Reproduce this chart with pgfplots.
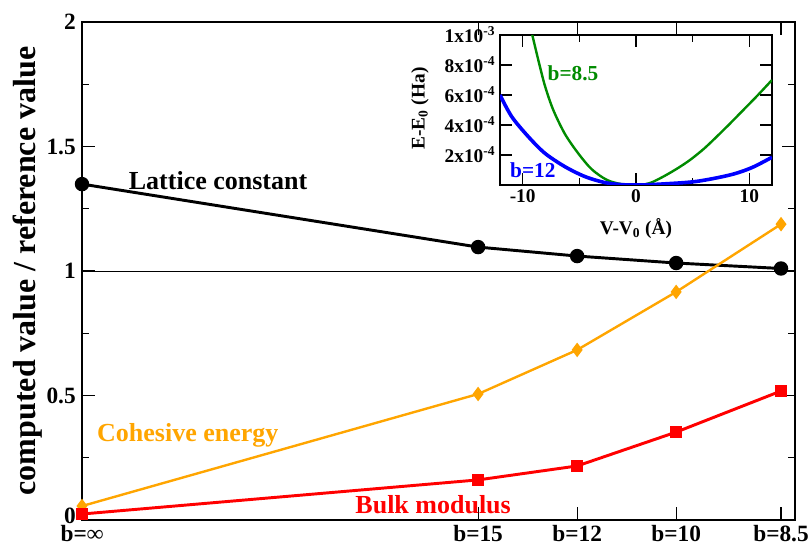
\documentclass[border=0pt]{standalone}
\usepackage{fontspec}
\setmainfont{Liberation Serif}
\usepackage{pgfplots}
\pgfplotsset{compat=1.18}
\definecolor{xorange}{RGB}{255,165,0}
\definecolor{xgreen}{RGB}{0,139,0}
\begin{document}
\begin{tikzpicture}
\begin{axis}[
  scale only axis, width=534.75pt, height=373.5pt,
  xmin=0, xmax=0.12, ymin=0, ymax=2,
  xtick={0,0.0666667,0.0833333,0.1,0.117647},
  xticklabels={b=∞,b=15,b=12,b=10,b=8.5},
  ytick={0,0.5,1,1.5,2},
  yticklabels={\raisebox{7pt}{0},0.5,1,1.5,2},
  minor ytick={0.25,0.75,1.25,1.75},
  tick align=inside,
  major tick length=10pt, minor tick length=5pt,
  every tick/.style={black, line width=0.8pt},
  axis line style={line width=1.4pt},
  tick label style={font=\bfseries\fontsize{17.5}{17.5}\selectfont},
  xticklabel style={inner sep=0pt, yshift=-4pt},
  yticklabel style={inner sep=0pt, xshift=-4.5pt},
  ylabel={computed value / reference value},
  ylabel style={font=\bfseries\fontsize{24}{24}\selectfont, inner sep=0pt, at={(axis description cs:-0.0757,0.5)}, anchor=center},
  clip=false,
]
\addplot[black, line width=0.6pt, forget plot] coordinates {(0,1) (0.12,1)};
\addplot[black, line width=2.2pt, mark=*, mark size=4.3pt] coordinates {
(0,1.349) (0.0666667,1.096) (0.0833333,1.060) (0.1,1.032) (0.117647,1.010)};
\addplot[xorange, line width=1.8pt, mark=diamond*, mark size=4pt] coordinates {
(0,0.056) (0.0666667,0.506) (0.0833333,0.683) (0.1,0.916) (0.117647,1.188)};
\addplot[red, line width=2.2pt, mark=square*, mark size=3.6pt] coordinates {
(0,0.024) (0.0666667,0.161) (0.0833333,0.217) (0.1,0.353) (0.117647,0.518)};
\node[font=\bfseries\fontsize{19.5}{19.5}\selectfont, black] at (axis cs:0.0229,1.361) {Lattice constant};
\node[font=\bfseries\fontsize{19.5}{19.5}\selectfont, xorange] at (axis cs:0.0178,0.341) {Cohesive energy};
\node[font=\bfseries\fontsize{19.5}{19.5}\selectfont, red] at (axis cs:0.0591,0.060) {Bulk modulus};
\path (rel axis cs:0,0) ++(-61.5pt,-21.5pt) coordinate (bbA);
\path (rel axis cs:1,1) ++(12pt,16.5pt) coordinate (bbB);
\path (bbA) -- (bbB);
\end{axis}
\begin{axis}[
  at={(313.5pt,251.25pt)}, anchor=south west,
  scale only axis, width=204pt, height=112.5pt,
  xmin=-12, xmax=12, ymin=0, ymax=10,
  xtick={-10,0,10}, minor xtick={-5,5},
  ytick={2,4,6,8,10},
  yticklabels={2x10\textsuperscript{-4},4x10\textsuperscript{-4},6x10\textsuperscript{-4},8x10\textsuperscript{-4},1x10\textsuperscript{-3}},
  xticklabels={-10,0,10},
  tick align=inside,
  major tick length=9pt, minor tick length=5.5pt,
  every tick/.style={black, line width=0.8pt},
  axis line style={line width=1.4pt},
  tick label style={font=\bfseries\fontsize{14.5}{14.5}\selectfont},
  xlabel={V-V\textsubscript{0} (Å)},
  ylabel={E-E\textsubscript{0} (Ha)},
  xlabel style={font=\bfseries\fontsize{14.5}{14.5}\selectfont, at={(axis description cs:0.5,-0.29)}, anchor=center},
  ylabel style={font=\bfseries\fontsize{14.5}{14.5}\selectfont, at={(axis description cs:-0.294,0.51)}, anchor=center},
  clip=true,
]
\addplot[xgreen, line width=1.8pt, smooth] coordinates {
(-9.15,10) (-8.62,8.33) (-8.03,6.6) (-7.3,5.0) (-6.27,3.4) (-5.09,2.1) (-3.91,1.05) (-2.6,0.35) (-1.3,0.06) (0.3,0) (1.3,0.15) (2.41,0.56) (3.6,1.08) (4.77,1.67) (6,2.42) (7.12,3.22) (8.3,4.1) (9.47,5.0) (10.7,5.95) (12,7.0)};
\addplot[blue, line width=2.7pt, smooth] coordinates {
(-12,6.0) (-10.97,4.56) (-9.5,3.22) (-8.03,2.11) (-6.27,1.22) (-4.5,0.56) (-2.74,0.16) (-1.2,0.02) (0.3,0) (2.4,0.07) (5.35,0.24) (8.3,0.67) (10.2,1.15) (12,1.85)};
\node[font=\bfseries\fontsize{16}{16}\selectfont, xgreen] at (axis cs:-5.56,7.47) {b=8.5};
\node[font=\bfseries\fontsize{16}{16}\selectfont, blue] at (axis cs:-9.1,0.97) {b=12};
\end{axis}
\end{tikzpicture}
\end{document}
